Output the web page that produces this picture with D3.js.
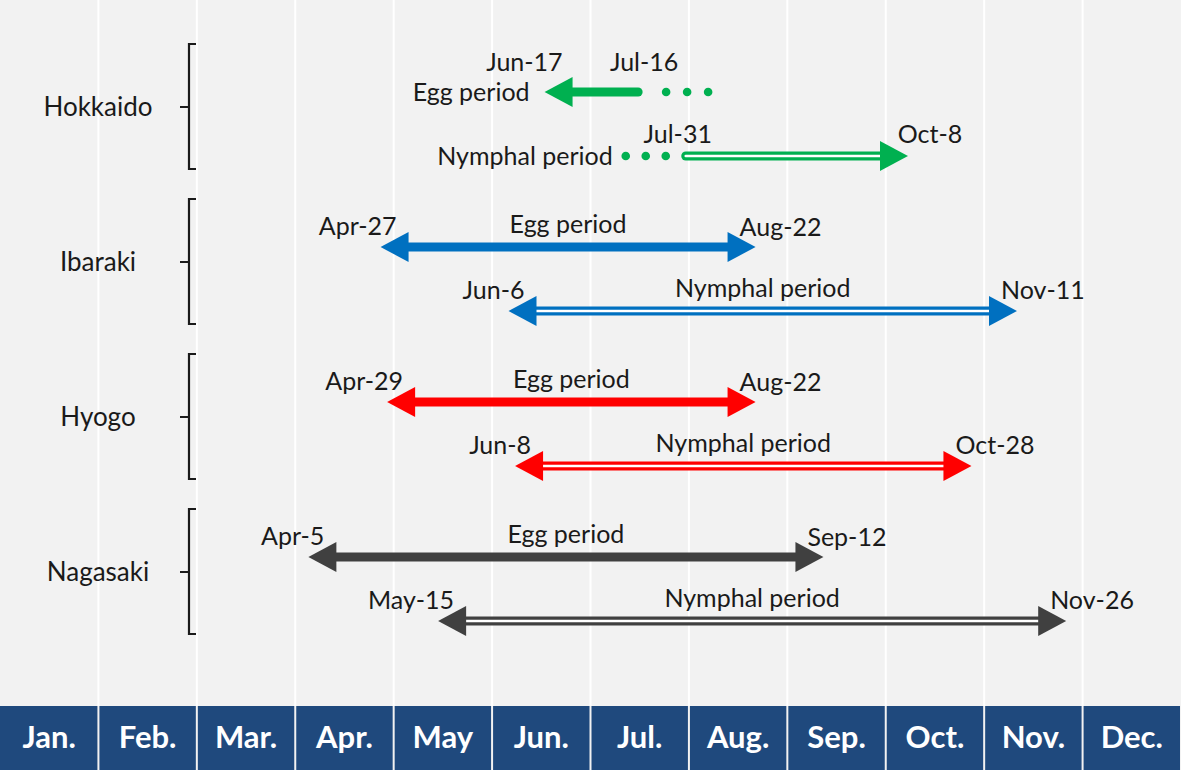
<!DOCTYPE html>
<html><head><meta charset="utf-8">
<script src="https://cdn.jsdelivr.net/npm/d3@7"></script>
<style>
html,body{margin:0;padding:0;background:#f2f2f2;}
svg{display:block;font-family:Lato,"Open Sans",sans-serif;}
</style></head>
<body>
<svg id="chart" width="1181" height="770"></svg>
<script>
const months = ["Jan.","Feb.","Mar.","Apr.","May","Jun.","Jul.","Aug.","Sep.","Oct.","Nov.","Dec."];
const monthKeys = ["Jan","Feb","Mar","Apr","May","Jun","Jul","Aug","Sep","Oct","Nov","Dec"];
const daysInMonth = [31,28,31,30,31,30,31,31,30,31,30,31];
const regions = ["Hokkaido","Ibaraki","Hyogo","Nagasaki"];
const stageLabels = ["Egg period","Nymphal period"];
const eggStart = ["Jun-17","Apr-27","Apr-29","Apr-5"];
const eggEnd = ["Jul-16","Aug-22","Aug-22","Sep-12"];
const nymphStart = ["Jul-31","Jun-6","Jun-8","May-15"];
const nymphEnd = ["Oct-8","Nov-11","Oct-28","Nov-26"];
const regionColors = ["#00b050","#0070c0","#ff0000","#404040"];

const W = 1181, H = 770;
const svg = d3.select("#chart");

function monthPos(label){
  const [m, d] = label.split("-");
  const mi = monthKeys.indexOf(m);
  return mi + (+d - 1) / daysInMonth[mi];
}
const x = d3.scaleLinear().domain([0, 12]).range([0, W]);
const y = d3.scalePoint().domain(regions).range([107, 572]);

svg.append("rect").attr("width", W).attr("height", H).attr("fill", "#f2f2f2");
svg.append("g").selectAll("line").data(d3.range(1, 12)).join("line")
  .attr("x1", d => x(d)).attr("x2", d => x(d)).attr("y1", 0).attr("y2", 706)
  .attr("stroke", "#ffffff").attr("stroke-width", 2);

const bar = svg.append("g");
bar.selectAll("rect").data(months).join("rect")
  .attr("x", (d, i) => x(i) + (i ? 1 : 0)).attr("y", 706)
  .attr("width", (d, i) => x(i + 1) - x(i) - (i ? 2 : 1)).attr("height", 64)
  .attr("fill", "#1f497d");
bar.selectAll("text").data(months).join("text")
  .attr("x", (d, i) => x(i + 0.5)).attr("y", 748)
  .attr("text-anchor", "middle").attr("fill", "#ffffff")
  .attr("font-size", 31).attr("font-weight", "bold").text(d => d);

const lab = svg.append("g");
regions.forEach((r, i) => {
  const cy = y(r);
  lab.append("text").attr("x", 98).attr("y", cy + 9).attr("text-anchor", "middle")
    .attr("font-size", 26).attr("fill", "#1a1a1a").text(r);
  lab.append("path")
    .attr("d", `M196,${cy - 63} H189 V${cy + 62} H196 M189,${cy} H180`)
    .attr("fill", "none").attr("stroke", "#1a1a1a").attr("stroke-width", 2.2);
});

const HL = 28, HW = 15;
function head(g, tipX, yy, dir, color){
  g.append("path")
    .attr("d", `M${tipX},${yy} L${tipX - dir * HL},${yy - HW} L${tipX - dir * HL},${yy + HW} Z`)
    .attr("fill", color);
}
function solidLine(g, x1, x2, yy, color, cap){
  g.append("line").attr("x1", x1).attr("x2", x2).attr("y1", yy).attr("y2", yy)
    .attr("stroke", color).attr("stroke-width", 9).attr("stroke-linecap", cap || "butt");
}
function doubleLine(g, x1, x2, yy, color, cap){
  g.append("line").attr("x1", x1).attr("x2", x2).attr("y1", yy).attr("y2", yy)
    .attr("stroke", color).attr("stroke-width", 9).attr("stroke-linecap", cap || "butt");
  g.append("line").attr("x1", x1).attr("x2", x2 + 2).attr("y1", yy).attr("y2", yy)
    .attr("stroke", "#ffffff").attr("stroke-width", 2.6).attr("stroke-linecap", cap || "butt");
}
function dots(g, xs, yy, color){
  g.selectAll(null).data(xs).join("circle").attr("cx", d => d).attr("cy", yy).attr("r", 4.3).attr("fill", color);
}
function text(g, tx, ty, anchor, s){
  g.append("text").attr("x", tx).attr("y", ty).attr("text-anchor", anchor)
    .attr("font-size", 25).attr("fill", "#1a1a1a").text(s);
}

const marks = svg.append("g");
regions.forEach((r, i) => {
  const c = regionColors[i];
  const yE = y(r) - 15, yN = y(r) + 49;
  const es = x(monthPos(eggStart[i])), ee = x(monthPos(eggEnd[i]));
  const ns = x(monthPos(nymphStart[i])), ne = x(monthPos(nymphEnd[i]));
  if (i === 0) {
    solidLine(marks, es + HL - 1, ee, yE, c, "round");
    head(marks, es, yE, -1, c);
    dots(marks, [ee + 28, ee + 49, ee + 70], yE, c);
    text(marks, es + 18, yE - 21, "end", eggStart[i]);
    text(marks, ee + 6, yE - 21, "middle", eggEnd[i]);
    text(marks, es - 15, yE + 9, "end", stageLabels[0]);

    doubleLine(marks, ns, ne - HL + 1, yN, c, "round");
    head(marks, ne, yN, 1, c);
    dots(marks, [ns - 60, ns - 40, ns - 20], yN, c);
    text(marks, ns - 8, yN - 13, "middle", nymphStart[i]);
    text(marks, ne + 22, yN - 13, "middle", nymphEnd[i]);
    text(marks, ns - 73, yN + 9, "end", stageLabels[1]);
  } else {
    solidLine(marks, es + HL - 1, ee - HL + 1, yE, c);
    head(marks, es, yE, -1, c);
    head(marks, ee, yE, 1, c);
    text(marks, es + 16, yE - 12, "end", eggStart[i]);
    text(marks, ee - 16, yE - 11, "start", eggEnd[i]);
    text(marks, (es + ee) / 2, yE - 14, "middle", stageLabels[0]);

    doubleLine(marks, ns + HL - 1, ne - HL + 1, yN, c);
    head(marks, ns, yN, -1, c);
    head(marks, ne, yN, 1, c);
    text(marks, ns + 16, yN - 12, "end", nymphStart[i]);
    text(marks, ne - 16, yN - 12, "start", nymphEnd[i]);
    text(marks, (ns + ne) / 2, yN - 14, "middle", stageLabels[1]);
  }
});
</script>
</body></html>
